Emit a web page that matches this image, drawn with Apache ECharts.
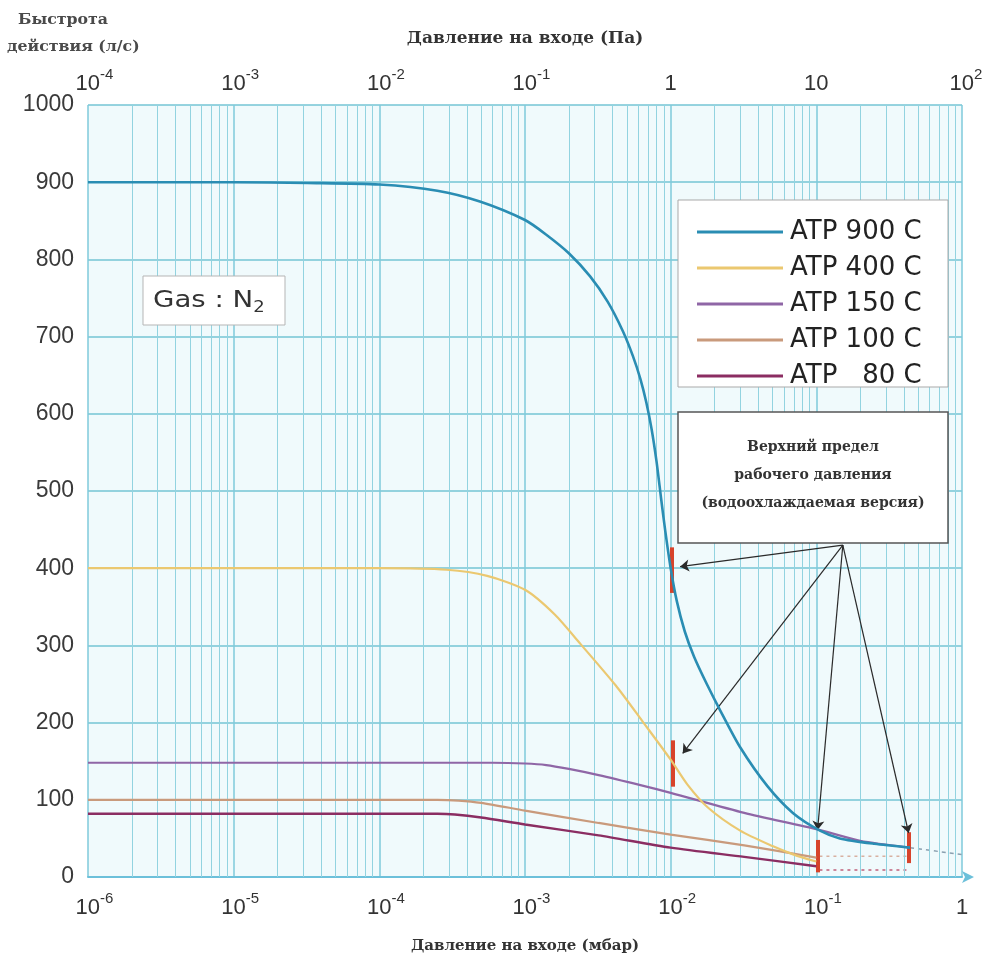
<!DOCTYPE html>
<html><head><meta charset="utf-8">
<script src="https://cdn.jsdelivr.net/npm/echarts@6/dist/echarts.min.js"></script>
<style>html,body{margin:0;padding:0;background:#fff}#c{width:992px;height:960px}</style>
</head><body><div id="c"></div>
<script>
// ---- data (pressure in mbar, pumping speed in l/s) ----
const seriesNames = ['ATP 900 C', 'ATP 400 C', 'ATP 150 C', 'ATP 100 C', 'ATP \u200780 C'];
const seriesColors = ['#2a8db3', '#ebc870', '#8f66a6', '#c99a7c', '#8b2d62'];

const atp900P = [1e-6, 1e-5, 3.2e-5, 1e-4, 2.5e-4, 4.9e-4, 1e-3, 1.4e-3, 2.0e-3, 2.8e-3, 3.7e-3, 4.7e-3, 5.5e-3, 6.2e-3, 6.8e-3, 7.4e-3, 8.0e-3, 8.6e-3, 9.2e-3, 1.0e-2, 1.1e-2, 1.25e-2, 1.45e-2, 1.77e-2, 2.2e-2, 3.0e-2, 4.6e-2, 6.9e-2, 0.106, 0.145, 0.25, 0.44];
const atp900S = [900, 900, 899, 897, 889, 875, 851, 832, 808, 778, 745, 707, 675, 645, 615, 580, 538, 490, 447, 400, 358, 318, 285, 250, 215, 168, 118, 83, 60, 50, 43, 38];

const atp400P = [1e-6, 1e-4, 2.9e-4, 5.5e-4, 1e-3, 1.6e-3, 2.4e-3, 4.2e-3, 6.5e-3, 1e-2, 1.3e-2, 1.8e-2, 3.0e-2, 5e-2, 7e-2, 0.1];
const atp400S = [400, 400, 398, 390, 372, 340, 302, 248, 200, 152, 120, 90, 60, 40, 29, 20];

const atp150P = [1e-6, 1e-4, 6e-4, 1e-3, 1.4e-3, 2e-3, 3.2e-3, 6.2e-3, 1e-2, 3.2e-2, 0.1, 0.2, 0.44];
const atp150S = [148, 148, 148, 147, 145, 140, 132, 119, 109, 83, 62, 47, 38];

const atp100P = [1e-6, 1e-4, 2.5e-4, 3.5e-4, 5e-4, 1e-3, 3.2e-3, 1e-2, 3.2e-2, 0.1];
const atp100S = [100, 100, 100, 99, 96, 86, 70, 55, 41, 25];

const atp80P = [1e-6, 1e-4, 2.5e-4, 3.3e-4, 5e-4, 1e-3, 3.2e-3, 1e-2, 3.2e-2, 0.1];
const atp80S = [82, 82, 82, 81, 77, 68, 54, 38, 26, 14];

// dotted continuations beyond the working limit
const dot900P = [0.44, 1];
const dot900S = [38, 29];
const dotUpperP = [0.105, 0.44];
const dotUpperS = [27, 27];
const dotLowerP = [0.105, 0.44];
const dotLowerS = [9, 9];

// upper working-pressure limit marks (red bars)
const limitP = [0.0102, 0.0103, 0.102, 0.43];
const limitLow = [368, 117, 6, 18];
const limitHigh = [427, 177, 48, 58];

// arrows from the note box to the limit marks
const arrowFromP = 0.152, arrowFromS = 430;
const arrowToP = [0.0116, 0.0121, 0.102, 0.43];
const arrowToS = [402, 160, 61, 57];

// axis ticks
const bottomMin = 1e-6, bottomMax = 1;
const topMin = 1e-4, topMax = 100;
const yMin = 0, yMax = 1000, yStep = 100;

// ---- helpers ----
const zip = (a, b) => a.map((v, i) => [v, b[i]]);
function expLabel(v) {
  const e = Math.round(Math.log10(v));
  if (e === 0) return '{b|1}';
  if (e === 1) return '{b|10}';
  const s = String(e);
  return (e < 0 ? '{p| }' : '{q| }') + '{b|10}{s|' + s + '}';
}
const labelRich = {
  b: { fontSize: 22, fontFamily: 'Liberation Sans', color: '#333', lineHeight: 28, verticalAlign: 'bottom' },
  s: { fontSize: 15, fontFamily: 'Liberation Sans', color: '#333', lineHeight: 16, verticalAlign: 'top' },
  p: { width: 13, fontSize: 10 },
  q: { width: 8, fontSize: 10 }
};

// minor log gridlines (2..9 per decade), drawn through the axis scale
const minorLines = [];
for (let k = -6; k < 0; k++) {
  for (let m = 2; m <= 9; m++) {
    const v = m * Math.pow(10, k);
    minorLines.push([{ coord: [v, yMin] }, { coord: [v, yMax] }]);
  }
}

const allP = [atp900P, atp400P, atp150P, atp100P, atp80P];
const allS = [atp900S, atp400S, atp150S, atp100S, atp80S];
const widths = [2.6, 2.2, 2.2, 2.2, 2.4];

const curveSeries = seriesNames.map((n, i) => ({
  name: n, type: 'line', xAxisIndex: 0, yAxisIndex: 0,
  data: zip(allP[i], allS[i]),
  symbol: 'none', showSymbol: false, smooth: 0.25,
  color: seriesColors[i],
  lineStyle: { width: widths[i], color: seriesColors[i] },
  itemStyle: { color: seriesColors[i] },
  z: 6 - i * 0.1,
  silent: true
}));

const serif = '"DejaVu Serif"';

const option = {
  animation: false,
  backgroundColor: '#ffffff',
  grid: { left: 88, right: 30, top: 105, bottom: 83, show: true, backgroundColor: '#f0fafc', borderWidth: 0 },
  xAxis: [
    {
      type: 'log', logBase: 10, min: bottomMin, max: bottomMax, position: 'bottom',
      name: 'Давление на входе (мбар)', nameLocation: 'middle', nameGap: 62,
      nameTextStyle: { fontFamily: 'DejaVu Serif', fontSize: 15, fontWeight: 'bold', color: '#333' },
      axisLine: { show: true, lineStyle: { color: '#6cc0da', width: 2 }, symbol: ['none', 'arrow'], symbolSize: [9, 12], symbolOffset: [0, 12] },
      axisTick: { show: false },
      axisLabel: { margin: 14, formatter: expLabel, rich: labelRich, showMinLabel: true, showMaxLabel: true },
      splitLine: { show: true, lineStyle: { color: '#7fcadb', width: 1.5 } }
    },
    {
      type: 'log', logBase: 10, min: topMin, max: topMax, position: 'top',
      name: 'Давление на входе (Па)', nameLocation: 'middle', nameGap: 58,
      nameTextStyle: { fontFamily: 'DejaVu Serif', fontSize: 17, fontWeight: 'bold', color: '#333' },
      axisLine: { show: false }, axisTick: { show: false }, splitLine: { show: false },
      axisLabel: { margin: 10, formatter: expLabel, rich: labelRich, showMinLabel: true, showMaxLabel: true }
    }
  ],
  yAxis: {
    type: 'value', min: yMin, max: yMax, interval: yStep,
    axisLine: { show: false }, axisTick: { show: false },
    axisLabel: { fontSize: 23, fontFamily: 'Liberation Sans', color: '#3a3a3a', margin: 14, formatter: v => String(v) },
    splitLine: { show: true, lineStyle: { color: '#74c4d4', width: 1.5 } }
  },
  legend: {
    data: seriesNames, orient: 'vertical', left: 692, top: 214,
    itemWidth: 86, itemHeight: 3, itemGap: 10, icon: 'rect', selectedMode: false, z: 12,
    textStyle: { fontFamily: 'DejaVu Sans', fontSize: 26, color: '#222', padding: [0, 0, 0, 2] }
  },
  series: [
    {
      name: 'grid-minor', type: 'line', data: [], silent: true, z: 1,
      markLine: { silent: true, symbol: 'none', label: { show: false }, animation: false,
        lineStyle: { color: '#92d3e0', width: 1, type: 'solid' }, data: minorLines }
    },
    ...curveSeries,
    { name: 'd900', type: 'line', data: zip(dot900P, dot900S), symbol: 'none', silent: true, z: 4,
      lineStyle: { color: '#8aa0b0', width: 1.5, type: [4, 4] } },
    { name: 'dUp', type: 'line', data: zip(dotUpperP, dotUpperS), symbol: 'none', silent: true, z: 4,
      lineStyle: { color: '#d8b0a0', width: 1.5, type: [3, 4] } },
    { name: 'dLow', type: 'line', data: zip(dotLowerP, dotLowerS), symbol: 'none', silent: true, z: 4,
      lineStyle: { color: '#c0607a', width: 1.5, type: [3, 4] } },
    {
      name: 'limits', type: 'line', data: [], silent: true, z: 7,
      markLine: { silent: true, symbol: 'none', label: { show: false }, animation: false,
        lineStyle: { color: '#d7432b', width: 4, type: 'solid' },
        data: limitP.map((p, i) => [{ coord: [p, limitLow[i]] }, { coord: [p, limitHigh[i]] }]) }
    },
    {
      name: 'arrows', type: 'line', data: [], silent: true, z: 8,
      markLine: { silent: true, symbol: ['none', 'arrow'], symbolSize: 9, label: { show: false }, animation: false,
        lineStyle: { color: '#2a2a2a', width: 1.2, type: 'solid' },
        data: arrowToP.map((p, i) => [{ coord: [arrowFromP, arrowFromS] }, { coord: [p, arrowToS[i]] }]) }
    }
  ],
  graphic: [
    { type: 'text', x: 18, y: 20, z: 12, scaleX: 1.05, style: { text: 'Быстрота', font: 'bold 15px ' + serif, fill: '#4a4a4a', verticalAlign: 'middle' } },
    { type: 'text', x: 7, y: 47, z: 12, scaleX: 1.05, style: { text: 'действия (л/с)', font: 'bold 15px ' + serif, fill: '#4a4a4a', verticalAlign: 'middle' } },
    { type: 'rect', z: 10, shape: { x: 143, y: 276, width: 142, height: 49 }, style: { fill: '#ffffff', stroke: '#b5b5b5', lineWidth: 1 } },
    { type: 'text', x: 153, y: 301, z: 12, scaleX: 1.2, style: { text: '{t|Gas : N}{s|2}', verticalAlign: 'middle',
        rich: { t: { fontFamily: 'DejaVu Sans', fontSize: 23, fill: '#333', lineHeight: 30, verticalAlign: 'middle' },
                s: { fontFamily: 'DejaVu Sans', fontSize: 15, fill: '#333', lineHeight: 30, verticalAlign: 'bottom' } } } },
    { type: 'rect', z: 10, shape: { x: 678, y: 200, width: 270, height: 187 }, style: { fill: '#ffffff', stroke: '#a9a9a9', lineWidth: 1 } },
    { type: 'rect', z: 10, shape: { x: 678, y: 412, width: 270, height: 131 }, style: { fill: '#ffffff', stroke: '#555', lineWidth: 1.5 } },
    { type: 'text', x: 813, y: 475, z: 12, style: { text: 'Верхний предел\nрабочего давления\n(водоохлаждаемая версия)', align: 'center', verticalAlign: 'middle',
        font: 'bold 14px ' + serif, lineHeight: 28, fill: '#333' } }
  ]
};

const chart = echarts.init(document.getElementById('c'), null, { renderer: 'canvas' });
chart.setOption(option);
</script></body></html>
